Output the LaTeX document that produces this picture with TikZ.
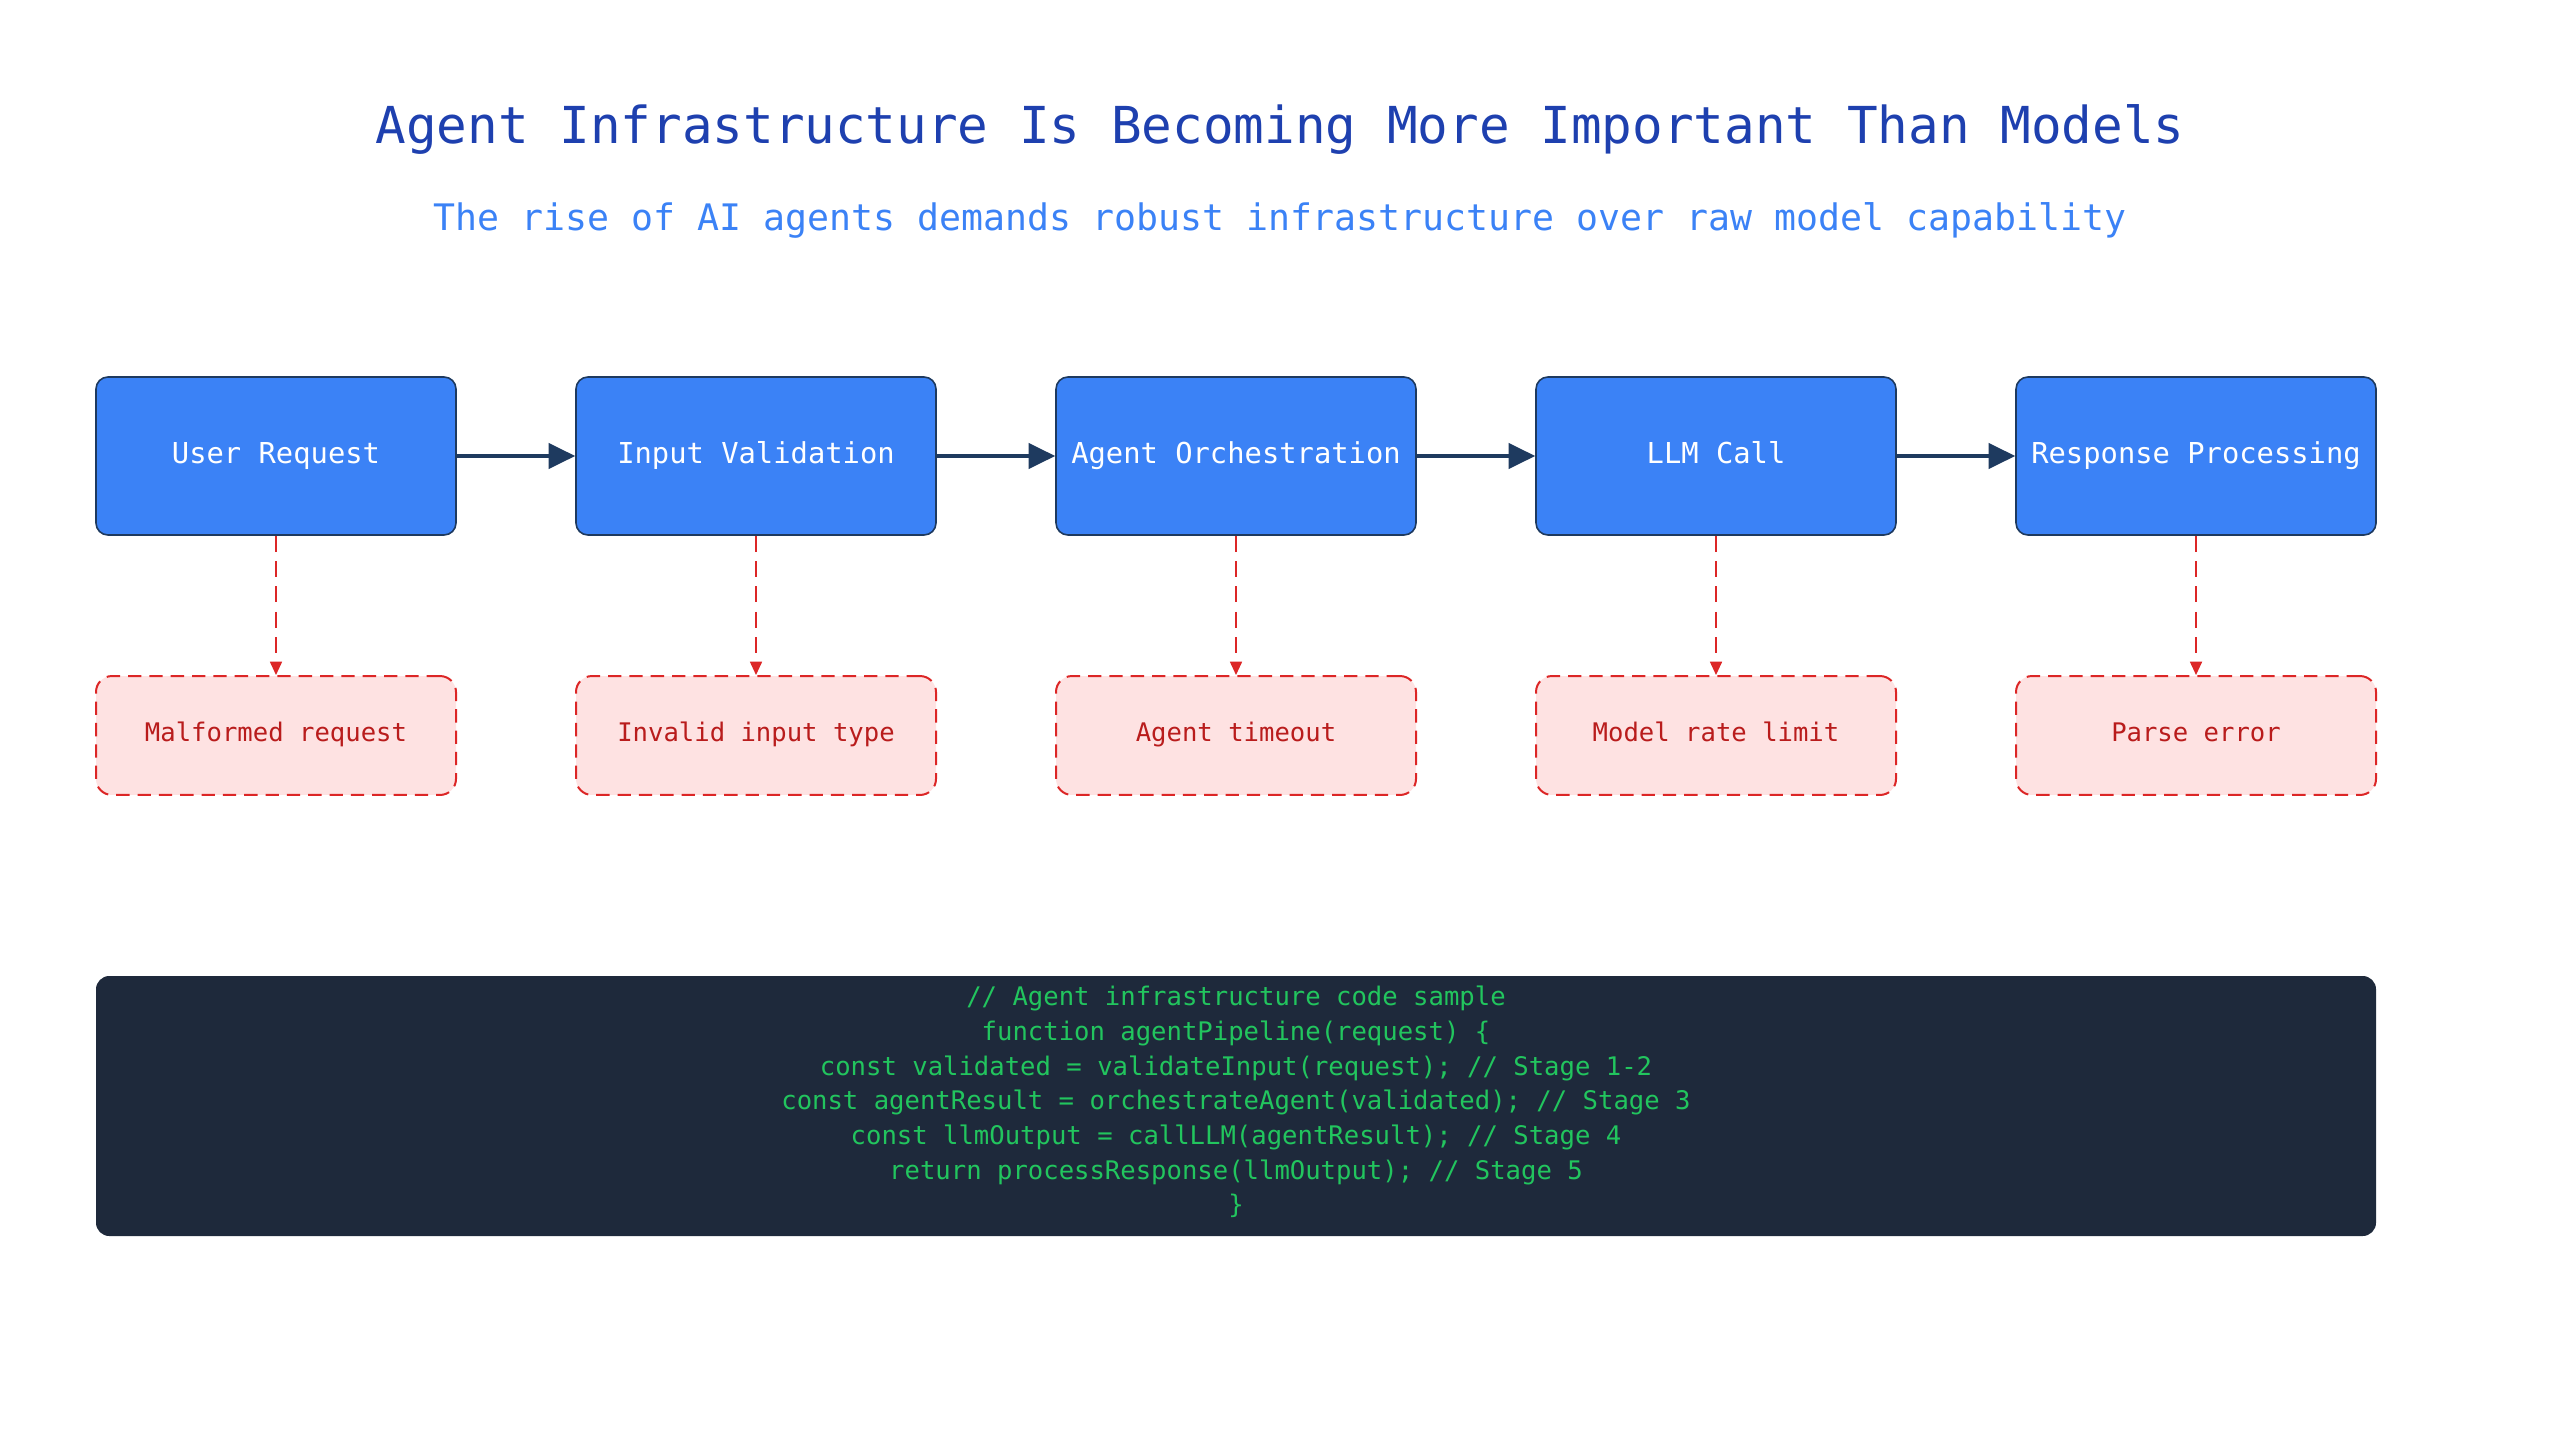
\documentclass[tikz,border=0pt]{standalone}
\usepackage{fontspec}
\setmonofont{DejaVu Sans Mono}
\usetikzlibrary{arrows.meta}
\definecolor{titleblue}{HTML}{1E40AF}
\definecolor{subblue}{HTML}{3B82F6}
\definecolor{stagefill}{HTML}{3B82F6}
\definecolor{navy}{HTML}{1E3A5F}
\definecolor{errfill}{HTML}{FEE2E2}
\definecolor{errline}{HTML}{DC2626}
\definecolor{errtext}{HTML}{B91C1C}
\definecolor{codebg}{HTML}{1E293B}
\definecolor{codegreen}{HTML}{22C55E}
\tikzset{
  stagebox/.style={draw=navy, line width=0.6pt, fill=stagefill, rounded corners=4.5pt,
    minimum width=135pt, minimum height=59.25pt, inner sep=0pt, text=white,
    text height=8pt, text depth=2.5pt,
    font=\ttfamily\fontsize{10.8}{13}\selectfont},
  errbox/.style={draw=errline, line width=0.75pt, dash pattern=on 5pt off 3pt, fill=errfill,
    rounded corners=6pt, minimum width=135pt, minimum height=44.6pt, inner sep=0pt,
    text height=7pt, text depth=2.2pt,
    text=errtext, font=\ttfamily\fontsize{9.6}{12}\selectfont},
  flowarrow/.style={draw=navy, line width=1.25pt, -{Triangle[length=10pt,width=9.5pt]}},
  errarrow/.style={draw=errline, line width=0.6pt, dash pattern=on 6pt off 3.5pt,
    -{Triangle[length=5pt,width=4.5pt]}},
}
\begin{document}
\begin{tikzpicture}[x=0.375pt,y=-0.375pt]
\useasboundingbox (0,0) rectangle (2560,1440);
\node[text=titleblue, font=\ttfamily\fontsize{19.1}{23}\selectfont] (title) at (1280,129) {Agent Infrastructure Is Becoming More Important Than Models};
\node[text=subblue, font=\ttfamily\fontsize{13.7}{17}\selectfont] (subtitle) at (1280,220) {The rise of AI agents demands robust infrastructure over raw model capability};

\node[stagebox] (s1) at (276,456) {User Request};
\node[stagebox] (s2) at (756,456) {Input Validation};
\node[stagebox] (s3) at (1236,456) {Agent Orchestration};
\node[stagebox] (s4) at (1716,456) {LLM Call};
\node[stagebox] (s5) at (2196,456) {Response Processing};

\node[errbox] (e1) at (276,735.5) {Malformed request};
\node[errbox] (e2) at (756,735.5) {Invalid input type};
\node[errbox] (e3) at (1236,735.5) {Agent timeout};
\node[errbox] (e4) at (1716,735.5) {Model rate limit};
\node[errbox] (e5) at (2196,735.5) {Parse error};

\draw[flowarrow] (s1.east) -- (s2.west);
\draw[flowarrow] (s2.east) -- (s3.west);
\draw[flowarrow] (s3.east) -- (s4.west);
\draw[flowarrow] (s4.east) -- (s5.west);

\foreach \i in {1,...,5} {
  \draw[errarrow] (s\i.south) -- (e\i.north);
}

\node[fill=codebg, rounded corners=5pt, minimum width=855pt, minimum height=97.5pt, inner sep=0pt] (codebox) at (1236,1106) {};
\node[text=codegreen, align=center, font=\ttfamily\fontsize{9.6}{13}\selectfont] (code) at (1236,1102) {%
// Agent infrastructure code sample\\
function agentPipeline(request) \{\\
const validated = validateInput(request); // Stage 1-2\\
const agentResult = orchestrateAgent(validated); // Stage 3\\
const llmOutput = callLLM(agentResult); // Stage 4\\
return processResponse(llmOutput); // Stage 5\\
\}};
\end{tikzpicture}
\end{document}
